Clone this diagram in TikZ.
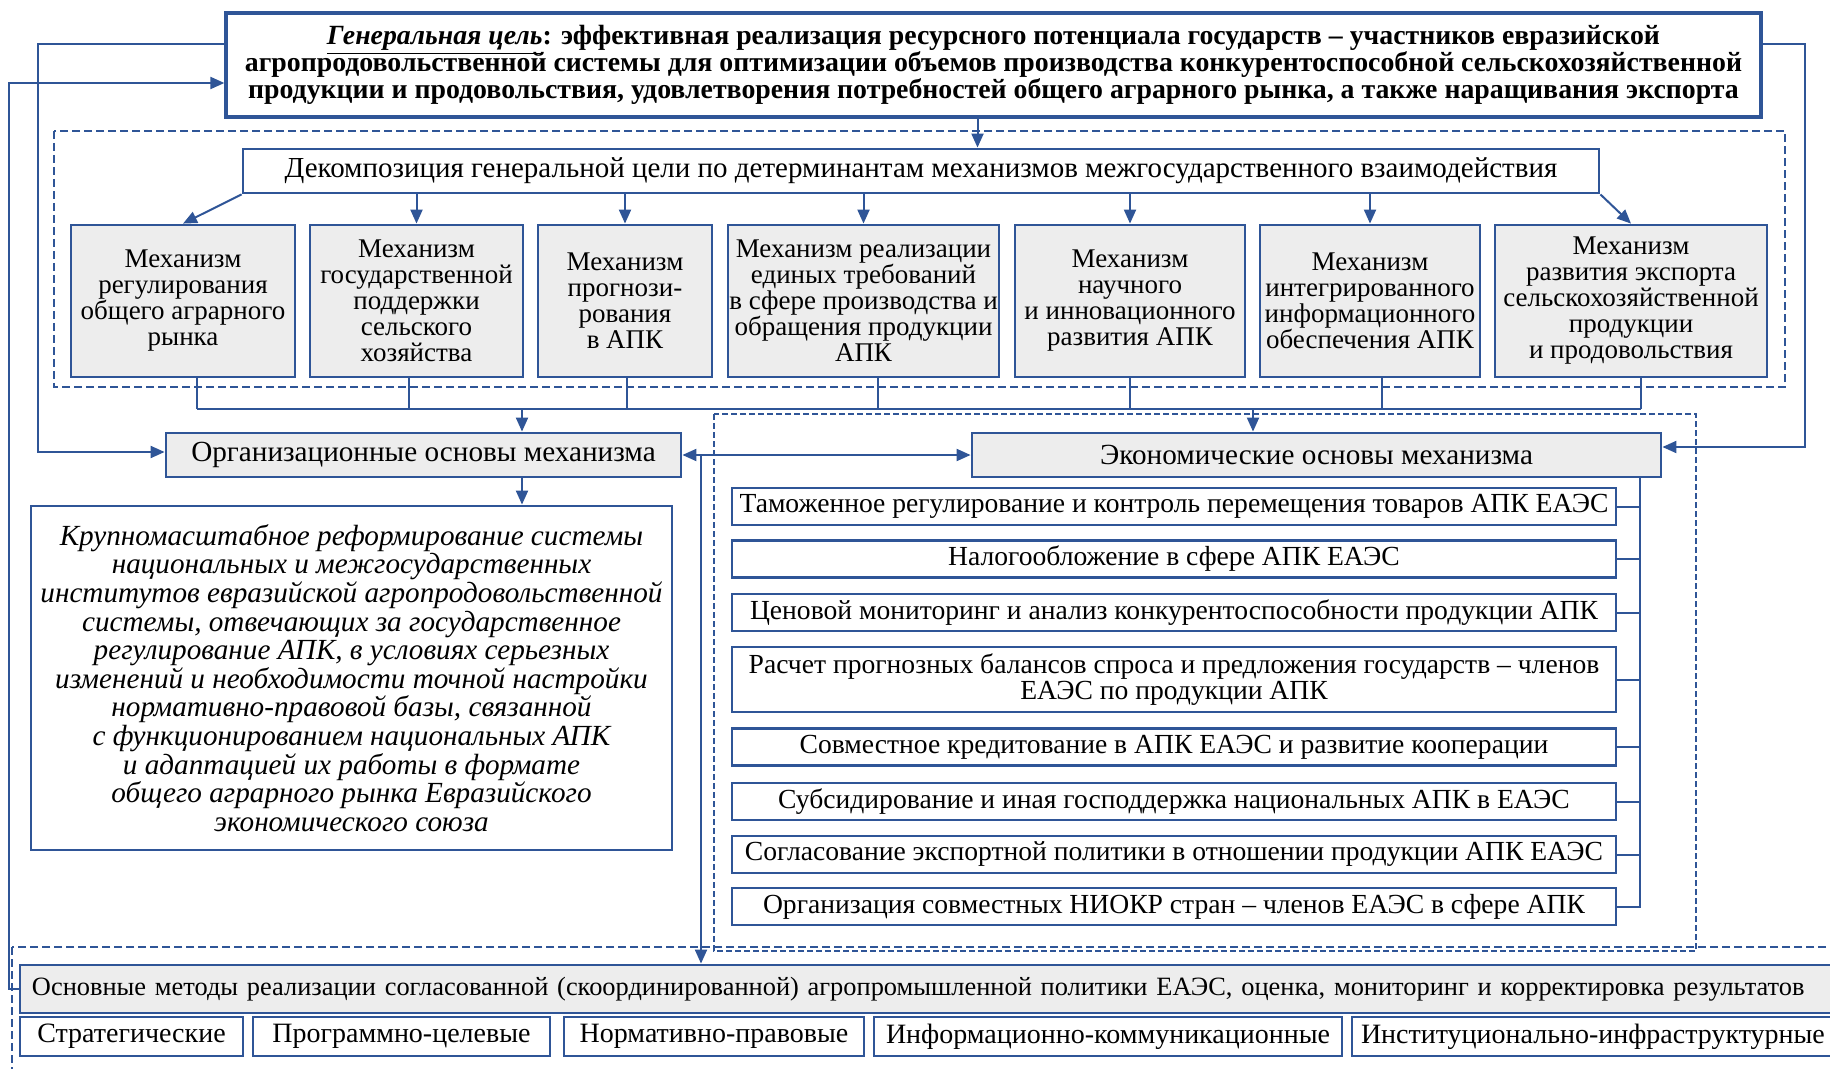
\documentclass[tikz,border=0pt]{standalone}
\usepackage{fontspec}
\setmainfont{Liberation Serif}
\usetikzlibrary{arrows.meta}
\definecolor{lineblue}{RGB}{47,85,151}
\definecolor{boxgray}{RGB}{237,237,237}

\begin{document}
\begin{tikzpicture}[x=0.5pt, y=-0.5pt,
  conn/.style={draw=lineblue, line width=1pt},
  arr/.style={conn, -{Triangle[length=7pt,width=6pt]}},
  arrs/.style={conn, {Triangle[length=7pt,width=6pt]}-{Triangle[length=7pt,width=6pt]}},
  dashframe/.style={draw=lineblue, line width=0.8pt, dash pattern=on 4pt off 2pt},
  basebox/.style={draw=lineblue, line width=1.4pt, align=center, inner sep=0.5pt, font=\fontsize{13.8}{13}\selectfont},
  mechbox/.style={basebox, fill=boxgray, minimum height=76pt, font=\fontsize{13.5}{13}\selectfont},
  itembox/.style={basebox, fill=white, minimum width=442pt, minimum height=18.5pt},
  methbox/.style={basebox, fill=white, minimum height=19.5pt, font=\fontsize{14}{14}\selectfont},
]
\useasboundingbox (0,0) rectangle (1830,1069);
\clip (0,0) rectangle (1830,1069);

% dashed frames
\draw[dashframe] (54,131) rectangle (1785,387);
\draw[dashframe, dash pattern=on 3pt off 1.5pt] (714,414) rectangle (1696,951);
\draw[dashframe] (12,947) rectangle (1900,1100);

% goal
\node[basebox, line width=1.6pt, font={\bfseries\fontsize{13.9}{13.4}\selectfont\lineskiplimit=-20pt}, minimum width=767.5pt, minimum height=52pt] (goal) at (993.5,65)
  {\underline{\textit{Генеральная цель}}: эффективная реализация ресурсного потенциала государств – участников евразийской\\
   агропродовольственной системы для оптимизации объемов производства конкурентоспособной сельскохозяйственной\\
   продукции и продовольствия, удовлетворения потребностей общего аграрного рынка, а также наращивания экспорта};

\node[basebox, fill=white, minimum width=678pt, minimum height=22pt, font=\fontsize{14.5}{14}\selectfont] (dec) at (921,171)
  {Декомпозиция генеральной цели по детерминантам механизмов межгосударственного взаимодействия};

% mechanisms
\node[mechbox, minimum width=112pt] (m1) at (183,301) {Механизм\\регулирования\\общего аграрного\\рынка};
\node[mechbox, minimum width=106.5pt] (m2) at (416.5,301) {Механизм\\государственной\\поддержки\\сельского\\хозяйства};
\node[mechbox, minimum width=87pt] (m3) at (625,301) {Механизм\\прогнози-\\рования\\в АПК};
\node[mechbox, minimum width=135.5pt] (m4) at (863.5,301) {Механизм реализации\\единых требований\\в сфере производства и\\обращения продукции\\АПК};
\node[mechbox, minimum width=115pt] (m5) at (1130,301) {Механизм\\научного\\и инновационного\\развития АПК};
\node[mechbox, minimum width=110pt] (m6) at (1370,301) {Механизм\\интегрированного\\информационного\\обеспечения АПК};
\node[mechbox, minimum width=136pt] (m7) at (1631,301) {Механизм\\развития экспорта\\сельскохозяйственной\\продукции\\и продовольствия};

\draw[arr] ([xshift=-8pt]goal.south) -- ([xshift=-8pt]goal.south |- dec.north);
\draw[arr] (dec.south west) -- (m1.north);
\foreach \i in {2,...,6}
  \draw[arr] (dec.south -| m\i.north) -- (m\i.north);
\draw[arr] (dec.south east) -- (m7.north);

% bus under the mechanisms
\coordinate (busW) at (197,409);
\coordinate (busE) at (1641,409);
\draw[conn] (busW) -- (busE);
\foreach \i/\s in {1/7pt,2/-4pt,3/1pt,4/7pt,5/0pt,6/6pt,7/5pt}
  \draw[conn] ([xshift=\s]m\i.south) -- ([xshift=\s]m\i.south |- busW);

% organisational and economic bases
\node[basebox, fill=boxgray, minimum width=257.5pt, minimum height=22pt, font=\fontsize{14.6}{14}\selectfont] (org) at (423.5,455) {Организационные основы механизма};
\node[basebox, fill=boxgray, minimum width=344.5pt, minimum height=22pt, font=\fontsize{14.6}{14}\selectfont] (econ) at (1316.5,455) {Экономические основы механизма};

\coordinate (orgIn) at (522,409);
\coordinate (econIn) at (1253,409);
\draw[arr] (orgIn) -- (orgIn |- org.north);
\draw[arr] (econIn) -- (econIn |- econ.north);
\draw[arrs] (org.east) -- (econ.west);

\node[basebox, fill=white, minimum width=320.5pt, minimum height=172pt, font=\itshape\fontsize{14.6}{14.3}\selectfont] (txt) at (351.5,678)
  {Крупномасштабное реформирование системы\\
   национальных и межгосударственных\\
   институтов евразийской агропродовольственной\\
   системы, отвечающих за государственное\\
   регулирование АПК, в условиях серьезных\\
   изменений и необходимости точной настройки\\
   нормативно-правовой базы, связанной\\
   с функционированием национальных АПК\\
   и адаптацией их работы в формате\\
   общего аграрного рынка Евразийского\\
   экономического союза};
\draw[arr] (orgIn |- org.south) -- (orgIn |- txt.north);

% economic items
\node[itembox] (e1) at (1174,506.5) {Таможенное регулирование и контроль перемещения товаров АПК ЕАЭС};
\node[itembox] (e2) at (1174,559) {Налогообложение в сфере АПК ЕАЭС};
\node[itembox] (e3) at (1174,612.5) {Ценовой мониторинг и анализ конкурентоспособности продукции АПК};
\node[itembox, minimum height=32.5pt] (e4) at (1174,679.5) {Расчет прогнозных балансов спроса и предложения государств – членов\\ЕАЭС по продукции АПК};
\node[itembox] (e5) at (1174,747) {Совместное кредитование в АПК ЕАЭС и развитие кооперации};
\node[itembox] (e6) at (1174,801.5) {Субсидирование и иная господдержка национальных АПК в ЕАЭС};
\node[itembox] (e7) at (1174,854.5) {Согласование экспортной политики в отношении продукции АПК ЕАЭС};
\node[itembox] (e8) at (1174,906.5) {Организация совместных НИОКР стран – членов ЕАЭС в сфере АПК};

\coordinate (ebus) at (1640,476);
\draw[conn] (ebus) |- (e8.east);
\foreach \i in {1,...,7}
  \draw[conn] (e\i.east) -- (e\i.east -| ebus);

% methods
\node[basebox, fill=boxgray, minimum height=24pt, inner xsep=6pt, font=\fontsize{13.2}{13}\selectfont, text width=1000pt, align=left] (meth) at (1032,989)
  {Основные методы реализации согласованной (скоординированной) агропромышленной политики ЕАЭС, оценка, мониторинг и корректировка результатов};
\node[methbox, minimum width=111.5pt] (b1) at (131.5,1036.5) {Стратегические};
\node[methbox, minimum width=148.5pt] (b2) at (401.5,1036.5) {Программно-целевые};
\node[methbox, minimum width=150pt] (b3) at (714,1036.5) {Нормативно-правовые};
\node[methbox, minimum width=234pt] (b4) at (1108,1036.5) {Информационно-коммуникационные};
\node[methbox, minimum width=249pt, text width=240pt, align=left] (b5) at (1601,1036.5) {Институционально-инфраструктурные};

\coordinate (split) at (701,455);
\draw[arr] (split) -- (split |- meth.north);

% feedback loops
\coordinate (lA) at (38,452);
\coordinate (lB) at (9,83);
\coordinate (lC) at (1805,447);
\draw[arr] ([yshift=10.5pt]goal.west) -| (lA) -- (lA -| org.west);
\draw[arr] (meth.west) -| (lB) -- (lB -| goal.west);
\draw[arr] ([yshift=10.5pt]goal.east) -| (lC) -- (lC -| econ.east);
\end{tikzpicture}
\end{document}
